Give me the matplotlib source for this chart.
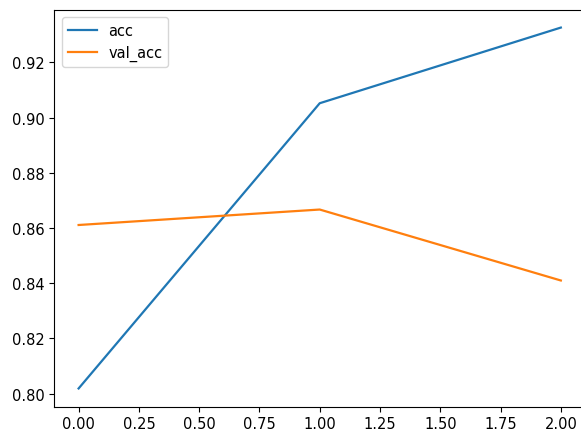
import matplotlib
matplotlib.use("Agg")
import matplotlib.pyplot as plt

epochs = [0, 1, 2]
acc = [0.8019, 0.9052, 0.9326]
val_acc = [0.8611, 0.8667, 0.8410]

plt.rcParams['font.size'] = 10.5

fig = plt.figure(figsize=(5.81, 4.35), dpi=100)
ax = fig.add_axes([0.0938, 0.0632, 0.913, 0.9126])

ax.plot(epochs, acc, label='acc', linewidth=1.6)
ax.plot(epochs, val_acc, label='val_acc', linewidth=1.6)
ax.legend(loc='upper left')

fig.savefig('out.png', dpi=100)
